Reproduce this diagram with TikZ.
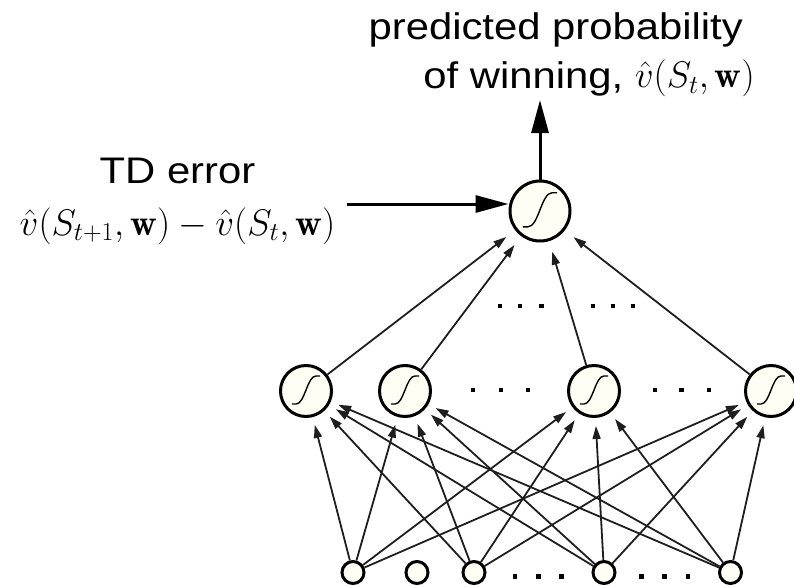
\RequirePackage{fix-cm}
\documentclass[tikz,border=0pt]{standalone}
\usepackage{fontspec}
\newfontfamily\lblfont[FakeStretch=1.13]{Liberation Sans}
\usetikzlibrary{arrows.meta}
\definecolor{unitfill}{RGB}{254,254,244}
\definecolor{wire}{RGB}{30,30,30}
\tikzset{
  neuron/.style={circle, draw=black, line width=3pt, fill=unitfill, inner sep=0pt, minimum size=#1},
  hiddenunit/.style={neuron=51pt},
  outunit/.style={neuron=60pt},
  inunit/.style={neuron=22pt},
  conn/.style={draw=wire, line width=1.8pt, -{Triangle[length=13pt,width=8pt]}, shorten >=8pt},
  upconn/.style={conn, shorten >=11pt},
  bigarrow/.style={line width=3pt, -{Triangle[length=33pt,width=17pt]}},
  lbl/.style={inner sep=0pt, font=\lblfont\fontsize{37}{44}\selectfont},
  dotmark/.style={rectangle, fill=black, minimum size=4.5pt, inner sep=0pt},
  sigline/.style={line width=1.4pt},
  sig/.pic={\draw[sigline] (-14,13) -- (-10,13) .. controls (-1,13) and (1,-15) .. (10,-15) -- (14,-15);}
}
\begin{document}
\begin{tikzpicture}[x=1pt, y=-1pt]
  \useasboundingbox (0,0) rectangle (794,586);

  % output unit
  \node[outunit] (out) at (540,211) {};
  \pic[scale=1.22] at (out) {sig};

  % hidden units
  \node[hiddenunit] (h1) at (306,391) {};
  \node[hiddenunit] (h2) at (405,391) {};
  \node[hiddenunit] (h3) at (594,391) {};
  \node[hiddenunit] (h4) at (771,391) {};
  \foreach \h in {1,...,4} \pic at (h\h) {sig};

  % input units
  \node[inunit] (i1) at (353,572.5) {};
  \node[inunit] (i2) at (417,572.5) {};
  \node[inunit] (i3) at (474,572.5) {};
  \node[inunit] (i4) at (604,572.5) {};
  \node[inunit] (i5) at (730.5,572.5) {};

  % input -> hidden weights
  \foreach \i in {1,3,4,5}
    \foreach \h in {1,...,4}
      \draw[conn] (i\i) -- (h\h);

  % hidden -> output weights
  \foreach \h in {1,...,4}
    \draw[upconn] (h\h) -- (out);

  % ellipsis dots
  \foreach \x [count=\k] in {500,520,541.5,593,613,633}
    \node[dotmark] (ud\k) at (\x,306) {};
  \foreach \x [count=\k] in {473,501,528,655,681.5,709}
    \node[dotmark] (hd\k) at (\x,390) {};
  \foreach \x [count=\k] in {515,538.5,561.5,641.5,664.5,688}
    \node[dotmark] (id\k) at (\x,576.5) {};

  % output arrow and label
  \coordinate (outtip) at (540,100);
  \draw[bigarrow] (out.north) -- (outtip);
  \node[lbl, anchor=base east] (pp) at (755,40)
    {\begin{tabular}[t]{@{}r@{}}predicted probability\kern12pt\\[4pt]
      of winning, $\hat v(S_t,\mathbf w)$\end{tabular}};

  % TD error input
  \coordinate (tdtail) at (347,204);
  \draw[bigarrow] (tdtail) -- (tdtail -| out.west);
  \node[lbl, anchor=base] (td) at (177.5,183)
    {\begin{tabular}[t]{@{}c@{}}TD error\\[8pt]
      $\hat v(S_{t+1},\mathbf w)-\hat v(S_t,\mathbf w)$\end{tabular}};
\end{tikzpicture}
\end{document}
